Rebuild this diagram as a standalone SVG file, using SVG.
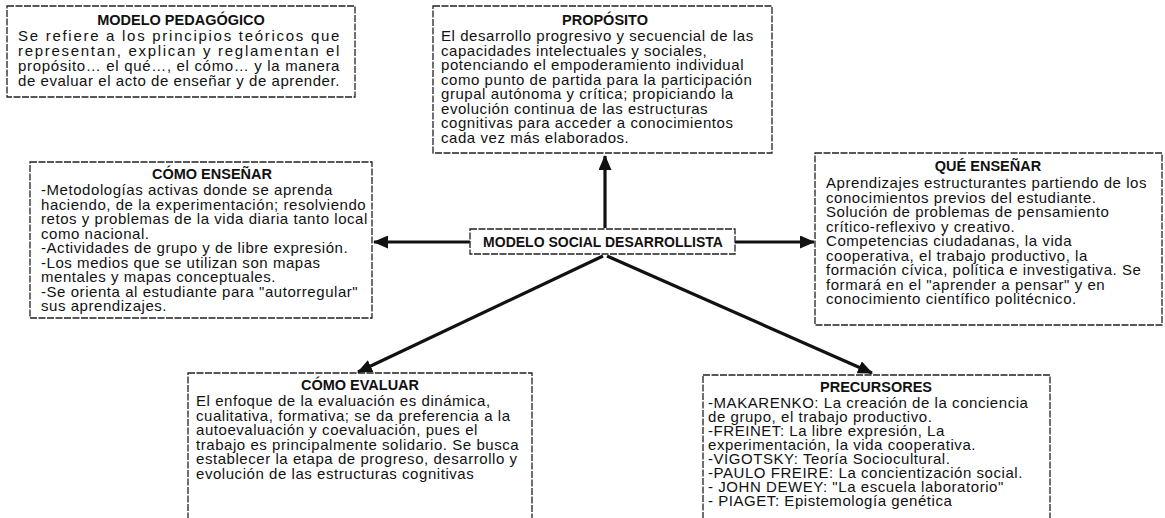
<svg xmlns="http://www.w3.org/2000/svg" width="1165" height="518" viewBox="0 0 1165 518">
<style>
.box{fill:#fff;stroke:#222;stroke-width:1.3;stroke-dasharray:7 1.5}
.t{font-family:"Liberation Sans",Arial,sans-serif;font-size:15px;fill:#111;letter-spacing:0.55px}
.h{font-family:"Liberation Sans",Arial,sans-serif;font-size:14.5px;font-weight:bold;fill:#111;text-anchor:middle}
.c{stroke:#111;stroke-width:3.2;fill:none}
</style>
<defs>
<marker id="ah" markerUnits="userSpaceOnUse" markerWidth="15" markerHeight="13" refX="14" refY="6.5" orient="auto">
<path d="M0,0 L15,6.5 L0,13 z" fill="#111"/>
</marker>
</defs>
<rect width="1165" height="518" fill="#fff"/>

<g id="connectors">
<line class="c" x1="605" y1="228" x2="605" y2="156" marker-end="url(#ah)"/>
<line class="c" x1="470" y1="242" x2="374" y2="242" marker-end="url(#ah)"/>
<line class="c" x1="735" y1="242" x2="814" y2="242" marker-end="url(#ah)"/>
<line class="c" x1="603" y1="256" x2="358" y2="372" marker-end="url(#ah)"/>
<line class="c" x1="607" y1="256" x2="872" y2="373" marker-end="url(#ah)"/>
</g>

<g id="modelo-pedagogico">
<rect class="box" x="7" y="6" width="348" height="91"/>
<text class="h" x="181" y="25">MODELO PEDAGÓGICO</text>
<text class="t" x="18" y="41" textLength="322" lengthAdjust="spacing">Se refiere a los principios teóricos que</text>
<text class="t" x="18" y="56" textLength="322" lengthAdjust="spacing">representan, explican y reglamentan el</text>
<text class="t" x="18" y="71" textLength="322" lengthAdjust="spacing">propósito… el qué…, el cómo… y la manera</text>
<text class="t" x="18" y="86">de evaluar el acto de enseñar y de aprender.</text>
</g>

<g id="proposito">
<rect class="box" x="433" y="6" width="339" height="147"/>
<text class="h" x="605" y="25">PROPÓSITO</text>
<text class="t" x="441" y="41">El desarrollo progresivo y secuencial de las</text>
<text class="t" x="441" y="55.5">capacidades intelectuales y sociales,</text>
<text class="t" x="441" y="70">potenciando el empoderamiento individual</text>
<text class="t" x="441" y="84.5">como punto de partida para la participación</text>
<text class="t" x="441" y="99">grupal autónoma y crítica; propiciando la</text>
<text class="t" x="441" y="113.5">evolución continua de las estructuras</text>
<text class="t" x="441" y="128">cognitivas para acceder a conocimientos</text>
<text class="t" x="441" y="142.5">cada vez más elaborados.</text>
</g>

<g id="como-ensenar">
<rect class="box" x="30" y="162" width="342" height="156"/>
<text class="h" x="212" y="179">CÓMO ENSEÑAR</text>
<text class="t" x="41" y="195">-Metodologías activas donde se aprenda</text>
<text class="t" x="41" y="209.5">haciendo, de la experimentación; resolviendo</text>
<text class="t" x="41" y="224">retos y problemas de la vida diaria tanto local</text>
<text class="t" x="41" y="238.5">como nacional.</text>
<text class="t" x="41" y="253">-Actividades de grupo y de libre expresión.</text>
<text class="t" x="41" y="267.5">-Los medios que se utilizan son mapas</text>
<text class="t" x="41" y="282">mentales y mapas conceptuales.</text>
<text class="t" x="41" y="296.5">-Se orienta al estudiante para "autorregular"</text>
<text class="t" x="41" y="311">sus aprendizajes.</text>
</g>

<g id="modelo-social">
<rect class="box" x="470" y="229" width="265" height="25"/>
<text class="h" x="603" y="247" style="font-size:14px">MODELO SOCIAL DESARROLLISTA</text>
</g>

<g id="que-ensenar">
<rect class="box" x="815" y="153" width="347" height="172"/>
<text class="h" x="988" y="171">QUÉ ENSEÑAR</text>
<text class="t" x="826" y="188">Aprendizajes estructurantes partiendo de los</text>
<text class="t" x="826" y="202.5">conocimientos previos del estudiante.</text>
<text class="t" x="826" y="217">Solución de problemas de pensamiento</text>
<text class="t" x="826" y="231.5">crítico-reflexivo y creativo.</text>
<text class="t" x="826" y="246">Competencias ciudadanas, la vida</text>
<text class="t" x="826" y="260.5">cooperativa, el trabajo productivo, la</text>
<text class="t" x="826" y="275">formación cívica, política e investigativa. Se</text>
<text class="t" x="826" y="289.5">formará en el "aprender a pensar" y en</text>
<text class="t" x="826" y="304">conocimiento científico politécnico.</text>
</g>

<g id="como-evaluar">
<rect class="box" x="188" y="373" width="344" height="150"/>
<text class="h" x="360" y="390">CÓMO EVALUAR</text>
<text class="t" x="196" y="406">El enfoque de la evaluación es dinámica,</text>
<text class="t" x="196" y="420.5">cualitativa, formativa; se da preferencia a la</text>
<text class="t" x="196" y="435">autoevaluación y coevaluación, pues el</text>
<text class="t" x="196" y="449.5">trabajo es principalmente solidario. Se busca</text>
<text class="t" x="196" y="464">establecer la etapa de progreso, desarrollo y</text>
<text class="t" x="196" y="478.5">evolución de las estructuras cognitivas</text>
</g>

<g id="precursores">
<rect class="box" x="703" y="375" width="347" height="150"/>
<text class="h" x="876" y="392">PRECURSORES</text>
<text class="t" x="708" y="408">-MAKARENKO: La creación de la conciencia</text>
<text class="t" x="708" y="422">de grupo, el trabajo productivo.</text>
<text class="t" x="708" y="436">-FREINET: La libre expresión, La</text>
<text class="t" x="708" y="450">experimentación, la vida cooperativa.</text>
<text class="t" x="708" y="464">-VIGOTSKY: Teoría Sociocultural.</text>
<text class="t" x="708" y="478">-PAULO FREIRE: La concientización social.</text>
<text class="t" x="708" y="492">- JOHN DEWEY: "La escuela laboratorio"</text>
<text class="t" x="708" y="506">- PIAGET: Epistemología genética</text>
</g>
</svg>
